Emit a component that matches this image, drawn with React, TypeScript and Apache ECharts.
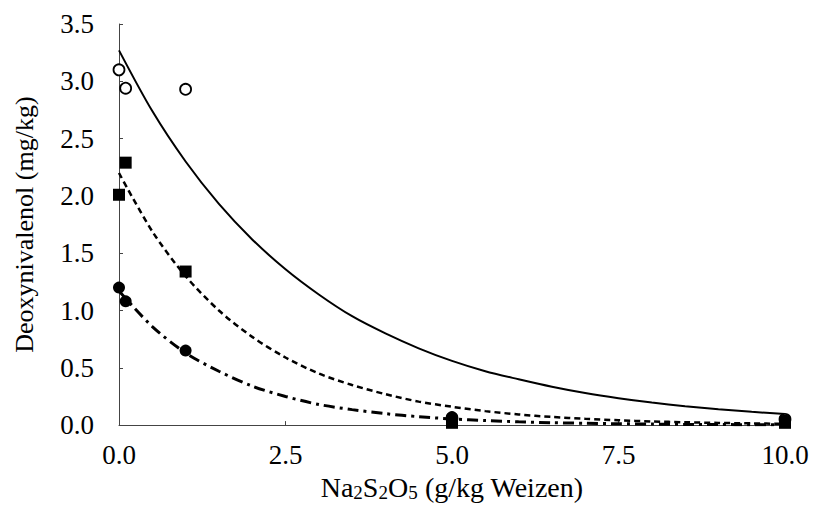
import React, { useEffect, useRef } from "react";
import * as echarts from "echarts";

// Measured points (x = g/kg Na2S2O5, y = DON mg/kg)
const openX = [0, 0.1, 1, 5, 10];
const openY = [3.1, 2.94, 2.93, 0.06, 0.05];
const squareX = [0, 0.1, 1, 5, 10];
const squareY = [2.01, 2.29, 1.34, 0.02, 0.02];
const filledX = [0, 0.1, 1, 5, 10];
const filledY = [1.2, 1.08, 0.65, 0.07, 0.04];

// Fitted curves
const curveX = [0, 0.5, 1, 1.5, 2, 2.5, 3, 3.5, 4, 4.5, 5, 5.5, 6, 6.5, 7, 7.5, 8, 8.5, 9, 9.5, 10];
const solidY = [3.27, 2.74, 2.3, 1.93, 1.62, 1.36, 1.14, 0.95, 0.8, 0.67, 0.56, 0.47, 0.4, 0.335, 0.28, 0.235, 0.197, 0.165, 0.138, 0.116, 0.097];
const dashedY = [2.2, 1.69, 1.3, 1.0, 0.77, 0.59, 0.45, 0.35, 0.27, 0.205, 0.16, 0.122, 0.093, 0.071, 0.055, 0.042, 0.032, 0.025, 0.019, 0.015, 0.011];
const dashDotY = [1.17, 0.86, 0.63, 0.47, 0.34, 0.25, 0.18, 0.135, 0.1, 0.073, 0.054, 0.04, 0.029, 0.021, 0.016, 0.012, 0.009, 0.006, 0.005, 0.003, 0.002];

const xTicks = [0, 2.5, 5, 7.5, 10];
const yTicks = [0, 0.5, 1, 1.5, 2, 2.5, 3, 3.5];

const FONT = "'Liberation Serif', 'Times New Roman', serif";

const pairs = (xs: number[], ys: number[]) => xs.map((x, i) => [x, ys[i]]);

export default function App() {
  const ref = useRef<HTMLDivElement>(null);
  useEffect(() => {
    if (!ref.current) return;
    const chart = echarts.init(ref.current, undefined, { renderer: "svg" });
    const axisLine = { show: true, lineStyle: { color: "#444", width: 1 } };
    chart.setOption({
      animation: false,
      backgroundColor: "#fff",
      grid: { left: 119, right: 33, top: 24, bottom: 77, containLabel: false },
      xAxis: {
        type: "value",
        min: xTicks[0],
        max: xTicks[xTicks.length - 1],
        interval: 2.5,
        axisLine,
        axisTick: { show: true, inside: true, length: 4, lineStyle: { color: "#444" } },
        splitLine: { show: false },
        axisLabel: {
          fontFamily: FONT,
          fontSize: 27,
          color: "#000",
          margin: 16,
          formatter: (v: number) => v.toFixed(1),
        },
        name: "Na{sub|2}S{sub|2}O{sub|5} (g/kg Weizen)",
        nameLocation: "middle",
        nameGap: 45,
        nameTextStyle: {
          fontFamily: FONT,
          fontSize: 28,
          color: "#000",
          rich: {
            sub: { fontFamily: FONT, fontSize: 19, color: "#000", verticalAlign: "bottom", padding: [11, 0, 0, 0] },
          },
        },
      },
      yAxis: {
        type: "value",
        min: yTicks[0],
        max: yTicks[yTicks.length - 1],
        interval: 0.5,
        axisLine,
        axisTick: { show: true, inside: true, length: 4, lineStyle: { color: "#444" } },
        splitLine: { show: false },
        axisLabel: {
          fontFamily: FONT,
          fontSize: 27,
          color: "#000",
          margin: 25,
          formatter: (v: number) => v.toFixed(1),
        },
        name: "Deoxynivalenol (mg/kg)",
        nameLocation: "middle",
        nameGap: 82,
        nameTextStyle: { fontFamily: FONT, fontSize: 26, color: "#000" },
      },
      series: [
        {
          type: "line",
          data: pairs(curveX, solidY),
          smooth: 0.3,
          showSymbol: false,
          lineStyle: { color: "#000", width: 2, type: "solid" },
          z: 2,
        },
        {
          type: "line",
          data: pairs(curveX, dashedY),
          smooth: 0.3,
          showSymbol: false,
          lineStyle: { color: "#000", width: 2.5, type: [6, 4] },
          z: 2,
        },
        {
          type: "line",
          data: pairs(curveX, dashDotY),
          smooth: 0.3,
          showSymbol: false,
          lineStyle: { color: "#000", width: 3, type: [11, 5, 3, 5] },
          z: 2,
        },
        {
          type: "scatter",
          data: pairs(openX, openY),
          symbol: "circle",
          symbolSize: 11,
          itemStyle: { color: "#fff", borderColor: "#000", borderWidth: 1.8, opacity: 1 },
          z: 3,
        },
        {
          type: "scatter",
          data: pairs(squareX, squareY),
          symbol: "rect",
          symbolSize: 12,
          itemStyle: { color: "#000", opacity: 1 },
          z: 4,
        },
        {
          type: "scatter",
          data: pairs(filledX, filledY),
          symbol: "circle",
          symbolSize: 12,
          itemStyle: { color: "#000", opacity: 1 },
          z: 5,
        },
      ],
    });
    return () => chart.dispose();
  }, []);
  return <div ref={ref} style={{ width: 818, height: 507, position: "absolute", left: 0, top: 0 }} />;
}
